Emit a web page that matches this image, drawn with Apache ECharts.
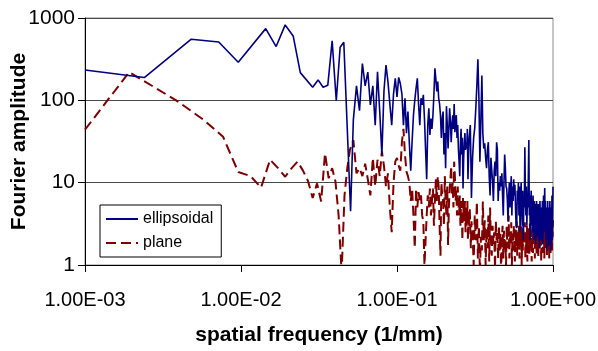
<!DOCTYPE html>
<html>
<head>
<meta charset="utf-8">
<script src="https://cdn.jsdelivr.net/npm/echarts@6/dist/echarts.min.js"></script>
<style>
html,body{margin:0;padding:0;background:#fff;}
#chart{width:598px;height:351px;}
</style>
</head>
<body>
<div id="chart"></div>
<script>
// ---- data (spatial frequency in 1/mm, Fourier amplitude) ----
const seriesNames = ['ellipsoidal', 'plane'];
const xTickLabels = ['1.00E-03', '1.00E-02', '1.00E-01', '1.00E+00'];
const yTickLabels = ['1', '10', '100', '1000'];

// ellipsoidal, low-frequency part
const ellLowFreq = [0.001,0.0024,0.0048,0.0072,0.0096,0.0144,0.0168,0.0192,0.0216,0.024,0.0288,0.0312,0.0336,0.036,0.0384,0.0408,0.0432,0.0456,0.0504];
const ellLowAmp  = [234,189,553,512,290,743,450,824,606,217,144,177,144,152,527,99,442,508,4.5];

// plane, low-frequency part
const planeLowFreq = [0.001,0.00192,0.00384,0.00576,0.00768,0.0096,0.01152,0.01344,0.01536,0.01728,0.0192,0.02112,0.02304,0.02496,0.02688,0.0288,0.03072,0.03264,0.03456,0.03648,0.0384,0.04032,0.04224,0.04416,0.04608,0.048,0.04992];
const planeLowAmp  = [44,220,100,58,36,13.5,12,8.7,19,15,11.8,15,18,14,10.5,6.5,9.8,5.9,22.7,11.3,15,10.3,4,0.8,7,15,25];

// mid band frequencies (shared)
const midFreq = [
0.0525,0.055,0.0575,0.06,0.0625,0.065,0.0675,0.07,0.0725,0.075,
0.0775,0.08,0.0825,0.085,0.0875,0.09,0.0925,0.095,0.0975,0.1,
0.1025,0.105,0.1075,0.11,0.1125,0.115,0.1175,0.12,0.1225,0.125,
0.1275,0.13,0.1325,0.135,0.1375,0.14,0.1425,0.145,0.1475,0.15,
0.1525,0.155,0.1575,0.16,0.1625,0.165,0.1675,0.17,0.1725,0.175,
0.1775,0.18,0.1825,0.185,0.1875,0.19,0.1925,0.195,0.1975,0.2,
0.2025,0.205,0.2075,0.21,0.2125,0.215,0.2175,0.22,0.2225,0.225,
0.2275,0.23,0.2325,0.235,0.2375,0.24,0.2425,0.245,0.2475,0.25,
0.2525,0.255,0.2575,0.26,0.2625,0.265,0.2675,0.27,0.2725,0.275,
0.2775,0.28,0.2825,0.285,0.2875,0.29,0.2925,0.295,0.2975,0.3];
const ellMidAmp = [
58,150,75,280,150,220,88,150,50,222,
73,22,130,268,169,90,50,120,185,110,
190,160,120,50,106,40,73,30,14,32,
66,100,140,185,90,50,106,88,117,60,
25,11,50,80,38,60,45,66,120,245,
180,128,169,106,90,66,35,60,73,22,
40,15,85,50,26,45,80,55,31,50,
66,45,90,41,55,66,35,50,26,18,
12,30,45,22,35,8.5,20,30,40,25,
30,26,45,11,20,35,41,50,20,6.5];
const planeMidAmp = [
33,13,15,12,17,11,7,20,9,19,
12,24,16,9,13,5,2.5,10,18,20,
16,14,31,45,22,13.6,12,10,6,8.5,
4,1.6,8.5,5,7.7,6,7,4,3.4,1,
2,4,7,5,8.5,4,6,8.5,3,6,
11,6,12,9,3,1.3,10,7,5.9,3,
12,6,4,9,1.75,5,8.5,11,16,7,
10,5,18,12,6,8,4,9,6,4,
7,3,6,5,2,6.5,4,3.4,6,2.5,
5,3,6,2,4.5,3,5,2.8,1.6,3.4];

// high band frequencies (shared)
const highFreq = [
0.305,0.31,0.315,0.32,0.325,0.33,0.335,0.34,0.345,0.35,
0.355,0.36,0.365,0.37,0.375,0.38,0.385,0.39,0.395,0.4,
0.405,0.41,0.415,0.42,0.425,0.43,0.435,0.44,0.445,0.45,
0.455,0.46,0.465,0.47,0.475,0.48,0.485,0.49,0.495,0.5,
0.505,0.51,0.515,0.52,0.525,0.53,0.535,0.54,0.545,0.55,
0.555,0.56,0.565,0.57,0.575,0.58,0.585,0.59,0.595,0.6,
0.605,0.61,0.615,0.62,0.625,0.63,0.635,0.64,0.645,0.65,
0.655,0.66,0.665,0.67,0.675,0.68,0.685,0.69,0.695,0.7,
0.705,0.71,0.715,0.72,0.725,0.73,0.735,0.74,0.745,0.75,
0.755,0.76,0.765,0.77,0.775,0.78,0.785,0.79,0.795,0.8,
0.805,0.81,0.815,0.82,0.825,0.83,0.835,0.84,0.845,0.85,
0.855,0.86,0.865,0.87,0.875,0.88,0.885,0.89,0.895,0.9,
0.905,0.91,0.915,0.92,0.925,0.93,0.935,0.94,0.945,0.95,
0.955,0.96,0.965,0.97,0.975,0.98,0.985,0.99,0.995,1.0];
const ellHighAmp = [
20,35,46,80,150,316,106,18,60,200,
40,26,30,20,15,25,31,12,7,20,
20,10,6,14,18,12,31,25,6,10,
8,12,9,13,7,4,10,22,15,9,
8.5,6,3.4,7,10,5,8,12,4,9,
6,11,7,9.4,5,3,2.8,8,6,10,
4,9,2.5,7,10,5,3,8,2,6,
5,27,8,4,9,3,6,5,12,33,
4,7,2,5,8,3,6,2.5,7,4,
2,6,3,5.5,1.8,4,6,2.2,5,3,
5.5,2,4,1.6,6,3,4.5,2,5,3,
6,1.8,4,7,2.5,5,8.6,3,6,2,
4,1.5,5,3,6,2,4,1.7,5,3,
6,2,4.5,1.5,5,3,7,2,4,8.9];
const planeHighAmp = [
2.5,1,4,2,5.9,1.2,3,0.8,2.2,1.5,
5.9,2,3.5,1,2.8,1.6,4,1.1,5,2,
1.3,3,1.8,2.5,0.9,3.4,2,2.6,1.2,3,
1.5,2.4,0.8,2,3,1.2,2.6,1.5,2,1,
3,1.6,2.2,4,1.2,2.5,1.8,3.3,1,2.4,
1.5,3,2,1.1,2.7,1.7,3.4,1.3,2.2,1.6,
3,1.2,2.4,1.8,3.1,1,2.6,1.5,2.9,1.8,
2.2,3.3,1.2,2.5,1.6,3,1.1,2.4,1.8,2.8,
1.3,3.2,2,1.5,2.7,1.1,2.3,3.5,1.4,2.6,
1.7,3,1.2,2.4,2,3.3,1.3,2.8,1.6,2.5,
1.2,3.1,2,1.5,2.9,1.8,3.4,1.1,2.5,1.9,
3,1.4,2.6,1.7,3.6,1.2,2.2,2.9,1.5,3.2,
1.8,4.1,1.3,2.7,3.5,1.6,2.4,4,1.2,2.8,
2,3.3,1.4,2.6,1.8,3.6,1.5,2.9,2.2,3.5];

function pairs(fs, as) { return fs.map((f, i) => [f, as[i]]); }
const ellData = pairs(ellLowFreq, ellLowAmp).concat(pairs(midFreq, ellMidAmp), pairs(highFreq, ellHighAmp));
const planeData = pairs(planeLowFreq, planeLowAmp).concat(pairs(midFreq, planeMidAmp), pairs(highFreq, planeHighAmp));

const FONT = 'Liberation Sans, Arial, sans-serif';
const chart = echarts.init(document.getElementById('chart'), null, {renderer: 'canvas'});
chart.setOption({
  animation: false,
  backgroundColor: '#ffffff',
  grid: {left: 85, right: 45, top: 18, bottom: 86, containLabel: false, outerBoundsMode: 'none',
         show: true, borderColor: '#8c8c8c', borderWidth: 1, backgroundColor: 'transparent'},
  legend: {
    left: 100, top: 205, orient: 'vertical',
    data: seriesNames,
    itemWidth: 32, itemHeight: 10, itemGap: 8,
    padding: [6, 8, 6, 5],
    borderColor: '#000', borderWidth: 1, borderRadius: 0,
    backgroundColor: '#fff',
    itemStyle: {opacity: 0},
    textStyle: {fontFamily: FONT, fontSize: 16, color: '#000'}
  },
  xAxis: {
    type: 'log', logBase: 10, min: 0.001, max: 1,
    name: 'spatial frequency (1/mm)', nameLocation: 'middle', nameGap: 60,
    nameMoveOverlap: false,
    nameTextStyle: {fontFamily: FONT, fontSize: 21, fontWeight: 'bold', color: '#000'},
    axisLine: {show: true, lineStyle: {color: '#000', width: 1}},
    axisTick: {show: true, inside: false, length: 7, lineStyle: {color: '#000'}},
    minorTick: {show: false},
    splitLine: {show: false},
    axisLabel: {
      fontFamily: FONT, fontSize: 20, color: '#000', margin: 25,
      formatter: v => xTickLabels[Math.round(Math.log10(v)) + 3]
    }
  },
  yAxis: {
    type: 'log', logBase: 10, min: 1, max: 1000,
    name: 'Fourier amplitude', nameLocation: 'middle', nameGap: 55, nameRotate: 90,
    nameMoveOverlap: false,
    nameTextStyle: {fontFamily: FONT, fontSize: 21, fontWeight: 'bold', color: '#000'},
    axisLine: {show: true, lineStyle: {color: '#000', width: 1}},
    axisTick: {show: true, length: 7, lineStyle: {color: '#000'}},
    splitLine: {show: true, lineStyle: {color: '#4a4a4a', width: 1}},
    axisLabel: {
      fontFamily: FONT, fontSize: 21, color: '#000', margin: 10,
      formatter: v => yTickLabels[Math.round(Math.log10(v))]
    }
  },
  series: [
    {
      name: seriesNames[1], type: 'line', data: planeData, symbol: 'none', clip: true,
      lineStyle: {color: '#800000', width: 2, type: [10, 5]}, itemStyle: {color: '#800000'}, z: 2
    },
    {
      name: seriesNames[0], type: 'line', data: ellData, symbol: 'none', clip: true,
      lineStyle: {color: '#000080', width: 1.6}, itemStyle: {color: '#000080'}, z: 3
    }
  ]
});
</script>
</body>
</html>
